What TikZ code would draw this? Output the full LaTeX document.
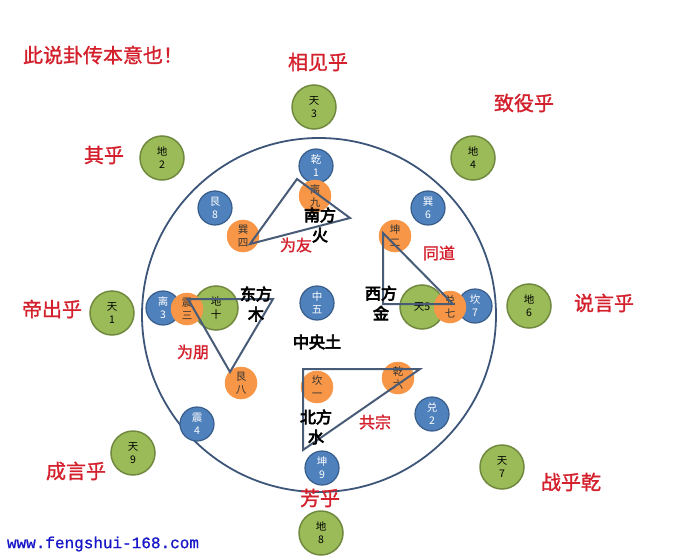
\documentclass[tikz,border=0pt]{standalone}
\usepackage{fontspec}
\newfontfamily\cjk{Noto Sans CJK SC}
\newfontfamily\cjkb[AutoFakeBold=4.5]{Noto Sans CJK SC}
\newfontfamily\cjkr[AutoFakeBold=1.2]{Noto Sans CJK SC}
\newfontfamily\urlfont[AutoFakeBold=1]{Liberation Mono}
\definecolor{ogreen}{RGB}{155,187,89}
\definecolor{ogreenD}{RGB}{113,137,63}
\definecolor{oblue}{RGB}{79,129,189}
\definecolor{oblueD}{RGB}{56,93,138}
\definecolor{oorange}{RGB}{247,150,70}
\definecolor{ringc}{RGB}{60,85,120}
\definecolor{tric}{RGB}{72,92,120}
\definecolor{redt}{RGB}{212,32,44}
\definecolor{urlc}{RGB}{24,24,200}
\tikzset{
  grn/.style={circle, fill=ogreen, draw=ogreenD, line width=1.5pt, minimum size=44pt, inner sep=0pt, align=center, font=\cjk\fontsize{10.5}{13}\selectfont},
  blu/.style={circle, fill=oblue, draw=oblueD, line width=1.2pt, minimum size=34pt, inner sep=0pt, align=center, text=white, font=\cjk\fontsize{10.5}{13}\selectfont},
  org/.style={circle, fill=oorange, draw=oorange, line width=0.5pt, minimum size=32pt, inner sep=0pt, align=center, text=black!80, font=\cjk\fontsize{10.5}{13}\selectfont},
  redlab/.style={text=redt, inner sep=0pt, font=\cjkr\bfseries\fontsize{20}{22}\selectfont},
  redsm/.style={text=redt, inner sep=0pt, font=\cjkr\bfseries\fontsize{16}{18}\selectfont},
  dirlab/.style={text=black, inner sep=0pt, align=center, font=\cjkb\bfseries\fontsize{16}{20}\selectfont},
  tri/.style={draw=tric, line width=2pt, line join=miter},
}
\begin{document}
\begin{tikzpicture}[x=1pt,y=-1pt]
\useasboundingbox[fill=white] (0,0) rectangle (677,559);
% big ring
\node[circle, draw=ringc, line width=1.8pt, minimum size=354pt, inner sep=0pt] (ring) at (319,315) {};
% outer green circles
\node[grn] (g3) at (314,107) {天\\3};
\node[grn] (g2) at (162,158) {地\\2};
\node[grn] (g4) at (473,158) {地\\4};
\node[grn] (g1) at (112,313) {天\\1};
\node[grn] (g6) at (529,306) {地\\6};
\node[grn] (g9) at (133,453) {天\\9};
\node[grn] (g7) at (502,467) {天\\7};
\node[grn] (g8) at (321,533) {地\\8};
% blue circles
\node[blu] (b1) at (316,166) {乾\\1};
\node[blu] (b8) at (215,208) {艮\\8};
\node[blu] (b6) at (428,208) {巽\\6};
\node[blu] (b3) at (163,308) {离\\3};
\node[blu] (b7) at (475,306) {坎\\7};
\node[blu] (b5) at (317,303) {中\\五};
\node[blu] (b4) at (197,424) {震\\4};
\node[blu] (b2) at (432,414) {兑\\2};
\node[blu] (b9) at (322,468) {坤\\9};
% inner green circles
\node[grn] (g10) at (216,308) {地\\十};
\node[grn] (g5) at (422,307) {天5};
% orange circles
\node[org] (o9) at (315,196) {离\\九};
\node[org] (o4) at (243,236) {巽\\四};
\node[org] (o2) at (395,236) {坤\\二};
\node[org] (o3) at (187,309) {震\\三};
\node[org] (o7) at (450,307) {兑\\七};
\node[org] (o8) at (241,383) {艮\\八};
\node[org] (o1) at (317,387) {坎\\一};
\node[org] (o6) at (398,378) {乾\\六};
% triangles
\coordinate (s1) at (297,179);
\coordinate (s2) at (350,218);
\coordinate (s3) at (250,244);
\coordinate (w1) at (383,233);
\coordinate (w2) at (383,304);
\coordinate (w3) at (453,304);
\coordinate (e1) at (188,299);
\coordinate (e2) at (273,299);
\coordinate (e3) at (230,372);
\coordinate (n1) at (303,369);
\coordinate (n2) at (420,369);
\coordinate (n3) at (303,450);
\draw[tri] (s1) -- (s2) -- (s3) -- cycle;
\draw[tri] (w1) -- (w2) -- (w3) -- cycle;
\draw[tri] (e1) -- (e2) -- (e3) -- cycle;
\draw[tri] (n1) -- (n2) -- (n3) -- cycle;
% direction labels
\node[dirlab] (ls) at (320,225) {南方\\火};
\node[dirlab] (lw) at (381,303) {西方\\金};
\node[dirlab] (le) at (256,304) {东方\\木};
\node[dirlab] (ln) at (316,427) {北方\\水};
\node[dirlab] (lc) at (317,342) {中央土};
% red labels
\node[redlab] (t0) at (103,55) {此说卦传本意也！};
\node[redlab] (t1) at (318,62) {相见乎};
\node[redlab] (t2) at (524,103) {致役乎};
\node[redlab] (t3) at (104,155) {其乎};
\node[redlab] (t4) at (52,309) {帝出乎};
\node[redlab] (t5) at (604,303) {说言乎};
\node[redlab] (t6) at (76,471) {成言乎};
\node[redlab] (t7) at (320,498) {芳乎};
\node[redlab] (t8) at (571,482) {战乎乾};
\node[redsm] (r1) at (296,245) {为友};
\node[redsm] (r2) at (439,253) {同道};
\node[redsm] (r3) at (193,352) {为朋};
\node[redsm] (r4) at (375,422) {共宗};
% url
\node[text=urlc, inner sep=0pt, font=\urlfont\bfseries\fontsize{16}{18}\selectfont] (url) at (103,544) {www.fengshui-168.com};
\end{tikzpicture}
\end{document}
